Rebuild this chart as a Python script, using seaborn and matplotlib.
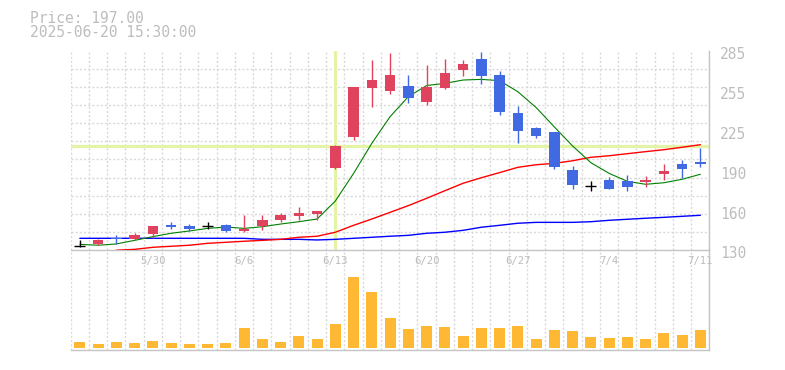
import numpy as np
import matplotlib
matplotlib.use("Agg")
import matplotlib.pyplot as plt
import seaborn as sns
from matplotlib.transforms import ScaledTranslation

# ---------------- data ----------------
dates = ['5/26', '5/27', '5/28', '5/29', '5/30', '6/2', '6/3', '6/4', '6/5', '6/6',
         '6/9', '6/10', '6/11', '6/12', '6/13', '6/16', '6/17', '6/18', '6/19', '6/20',
         '6/23', '6/24', '6/25', '6/26', '6/27', '6/30', '7/1', '7/2', '7/3', '7/4',
         '7/7', '7/8', '7/9', '7/10', '7/11']
opens = [133, 134.7, 139, 138.8, 142.7, 149.7, 148.7, 148.4, 149.4, 144.8,
         148.9, 153.3, 156.4, 158.2, 194, 218.1, 256.2, 253.9, 257.5, 245.4,
         255.8, 270.3, 278.5, 266.3, 236.5, 224.9, 221.8, 192.2, 179.8, 184.7,
         183.9, 183.1, 189.3, 197.1, 198.7]
highs = [138, 138.5, 141.4, 143.5, 148.7, 152, 150.5, 152, 150.5, 157.5,
         157.5, 158.8, 163.4, 160.5, 211.5, 257, 277.8, 283.2, 266.1, 273.9,
         278.5, 277.8, 284, 269.2, 242.2, 225.7, 221.8, 195.6, 183.9, 187,
         188.5, 187.5, 197.1, 200.2, 209.6]
lows = [132, 134, 134.7, 137.8, 139.6, 146.6, 144.5, 146.6, 144, 144,
        145.8, 151.8, 153.3, 153.3, 193.2, 215.8, 241.5, 251.6, 244.6, 243,
        255, 265.6, 259.3, 235.2, 213.4, 217.3, 193.2, 177.7, 176.1, 177.7,
        176.1, 179.2, 184.7, 186.2, 194.8]
closes = [133, 137.8, 138.3, 141.7, 148.7, 147.9, 146.3, 148.4, 144.8, 146.6,
          153.3, 157.2, 158.8, 160.3, 210.9, 256.8, 262.2, 266.1, 248.5, 256.8,
          267.7, 274.7, 265.6, 237.6, 222.8, 218.9, 194.8, 180.8, 179.8, 177.7,
          179.2, 184.7, 191.7, 193.2, 197]
volumes = [6, 4, 6, 5, 7, 5, 4, 4, 5, 20,
           9, 6, 12, 9, 24, 71.3, 56, 30, 19, 22,
           21, 12, 20, 20, 22, 9, 18, 17, 11, 10,
           11, 9, 15, 13, 18]
ma_short = [134.4, 133.7, 134.7, 137.5, 140.4, 143, 144.8, 146.8, 147.9, 146.8,
            148.1, 150.2, 152, 154.1, 168.1, 189.6, 213, 233.7, 249.3, 257.9,
            259.6, 262.2, 262.7, 261.7, 253.1, 240.8, 225.7, 210.9, 197.9, 189.6,
            183.4, 181.1, 182.3, 185, 188.9]
ma_mid = [np.nan, np.nan, 129.8, 130.5, 132.1, 132.9, 133.7, 135.2, 136, 136.8,
          137.5, 138.3, 139.9, 140.7, 143.8, 149.2, 154.1, 159.3, 164.5, 170.2,
          176.1, 181.9, 186.2, 190.2, 194.3, 196.3, 197.4, 199.4, 202.1, 203.3,
          204.9, 206.5, 208, 209.9, 211.9]
ma_long = [139.1, 139.1, 139.1, 139.1, 139.1, 139.1, 139.1, 139.1, 139.1, 139.1,
           138.3, 138.3, 138.3, 137.8, 138.3, 139.1, 139.9, 140.7, 141.4, 143,
           143.8, 145.3, 147.7, 149.2, 150.8, 151.5, 151.5, 151.5, 152, 153.1,
           153.9, 154.7, 155.4, 156.2, 157]
tick_idx = [4, 9, 14, 19, 24, 29, 34]
y_tick_labels = ['130', '160', '190', '225', '255', '285']
cross_idx = 14
cross_price = 210.9
title_lines = ['Price: 197.00', '2025-06-20 15:30:00']

# ---------------- style ----------------
sns.set_style("white")
plt.rcParams['font.family'] = ['DejaVu Sans Mono', 'DejaVu Sans']

UP = '#e0435e'
DOWN = '#4169e1'
TXT = '#bdbdbd'
GRID = '#d9d9d9'
SPINE = '#c4c4c4'

W, H = 785, 370
fig = plt.figure(figsize=(W / 100, H / 100), dpi=100)
L, R = 70.7, 709.5
ax = fig.add_axes([L / W, 1 - 250 / H, (R - L) / W, 199.3 / H])
axv = fig.add_axes([L / W, 1 - 350 / H, (R - L) / W, 100 / H])
ax.set_zorder(3)

x = np.arange(len(dates))

# candles
for i in range(len(dates)):
    o, h, l, c = opens[i], highs[i], lows[i], closes[i]
    if c > o:
        col = UP
    elif c < o:
        col = DOWN
    else:
        col = 'black'
    ax.vlines(i, l, h, color=col, lw=1.0, zorder=5)
    if c == o:
        ax.hlines(o, i - 0.3, i + 0.3, color=col, lw=1.0, zorder=5)
    else:
        ax.bar(i, max(abs(c - o), 0.7), bottom=min(o, c), width=0.58,
               color=col, zorder=5, linewidth=0)

# moving averages
sns.lineplot(x=x, y=ma_long, ax=ax, color='#0000ff', lw=1.0, zorder=4)
sns.lineplot(x=x, y=ma_mid, ax=ax, color='#ff0000', lw=1.0, zorder=4)
sns.lineplot(x=x, y=ma_short, ax=ax, color='#008000', lw=0.8, zorder=4)

# crosshair
ax.axvline(cross_idx, color='#e4f4a6', lw=2.3, zorder=2)
ax.axhline(cross_price, color='#e4f4a6', lw=2.3, zorder=2)

ax.set_xlim(-0.5, len(dates) - 0.5)
ax.set_ylim(130, 285)
ax.set_xlabel('')
ax.set_ylabel('')

ax.yaxis.tick_right()
ax.set_yticks(np.linspace(130, 285, 6))
ax.set_yticklabels(y_tick_labels)
ax.set_yticks(np.linspace(130, 285, 12), minor=True)
ax.set_xticks(tick_idx)
ax.set_xticklabels([dates[i] for i in tick_idx])
ax.set_xticks(np.arange(-0.5, len(dates), 1), minor=True)
ax.tick_params(axis='y', which='major', length=0, pad=7.6, labelsize=10.5,
               labelcolor=TXT)
ax.tick_params(axis='x', which='major', length=0, pad=4.5, labelsize=7.7,
               labelcolor=TXT)
ax.tick_params(which='minor', length=0)
ax.grid(False, which='major')
ax.grid(True, which='minor', color=GRID, lw=1.0, ls=(0, (1.5, 1.5)), zorder=0)
ax.set_axisbelow(True)
for lab in ax.get_yticklabels():
    lab.set_transform(lab.get_transform() +
                      ScaledTranslation(0, -2.5 / 100, fig.dpi_scale_trans))

for s in ['left', 'top']:
    ax.spines[s].set_visible(False)
for s in ['right', 'bottom']:
    ax.spines[s].set_color(SPINE)
    ax.spines[s].set_linewidth(1.0)

# volume
sns.barplot(x=x, y=volumes, ax=axv, color='#ffb833', saturation=1,
            width=0.6, linewidth=0, zorder=3)
axv.set_xlim(-0.5, len(dates) - 0.5)
axv.set_ylim(-2, 98)
axv.set_xlabel('')
axv.set_ylabel('')
axv.set_xticks([])
axv.set_yticks([])
axv.set_xticks(np.arange(-0.5, len(dates), 1), minor=True)
axv.tick_params(which='both', length=0)
axv.grid(True, which='minor', axis='x', color=GRID, lw=1.0, ls=(0, (1.5, 1.5)))
axv.set_axisbelow(True)
for s in ['left', 'top']:
    axv.spines[s].set_visible(False)
for s in ['right', 'bottom']:
    axv.spines[s].set_color(SPINE)
    axv.spines[s].set_linewidth(1.0)

# header text
fig.text(30 / W, 1 - 22.7 / H, title_lines[0], va='baseline', ha='left',
         fontsize=10.5, color=TXT)
fig.text(30 / W, 1 - 37.3 / H, title_lines[1], va='baseline', ha='left',
         fontsize=10.5, color=TXT)

fig.savefig('out.png', dpi=100)
